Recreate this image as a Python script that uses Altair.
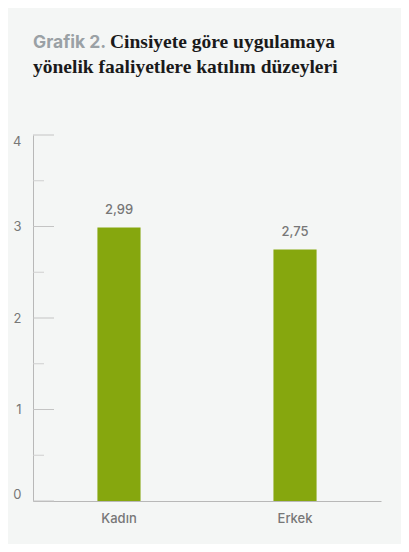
import altair as alt
import pandas as pd

categories = ["Kadın", "Erkek"]
values = [2.99, 2.75]
y_major = [0, 1, 2, 3, 4]
y_minor = [0.5, 1.5, 2.5, 3.5]
title_prefix = "Grafik 2."
title_line1 = "Cinsiyete göre uygulamaya"
title_line2 = "yönelik faaliyetlere katılım düzeyleri"

BG = "#f4f6f5"
GREEN = "#86a70e"
GRAY_TXT = "#777777"
AXIS = "#b8b8b8"
SANS = "Inter"
SERIF = "Liberation Serif"

df = pd.DataFrame({"cat": categories, "val": values})

yscale = alt.Scale(domain=[0, 4], nice=False)
xscale = alt.Scale(domain=categories, paddingInner=0.755, paddingOuter=0.366)

bars = alt.Chart(df).mark_bar(color=GREEN).encode(
    x=alt.X("cat:N", scale=xscale, sort=categories,
            axis=alt.Axis(title=None, labelAngle=0, ticks=False, labelPadding=11,
                          domainColor=AXIS, labelColor=GRAY_TXT, labelFont=SANS,
                          labelFontSize=13, labelFontWeight=500)),
    y=alt.Y("val:Q", scale=yscale,
            axis=alt.Axis(title=None, values=y_major, format="d", grid=False, ticks=False,
                          labelPadding=12, labelFlush=True, domainColor=AXIS,
                          labelColor=GRAY_TXT, labelFont=SANS, labelFontSize=13)),
)

labels = alt.Chart(df).transform_calculate(
    lab="replace(format(datum.val, '.2f'), '.', ',')"
).mark_text(baseline="bottom", dy=-10, font=SANS, fontSize=13, fontWeight=500,
            color=GRAY_TXT).encode(
    x=alt.X("cat:N", scale=xscale, sort=categories),
    y=alt.Y("val:Q", scale=yscale),
    text="lab:N",
)

major = alt.Chart(pd.DataFrame({"v": y_major})).mark_rule(color="#c4c4c4").encode(
    y=alt.Y("v:Q", scale=yscale), x=alt.value(0), x2=alt.value(21)
)
minor = alt.Chart(pd.DataFrame({"v": y_minor})).mark_rule(color="#cfcfcf").encode(
    y=alt.Y("v:Q", scale=yscale), x=alt.value(0), x2=alt.value(11)
)

t_prefix = alt.Chart(pd.DataFrame({"t": [title_prefix]})).mark_text(
    align="left", baseline="alphabetic", font=SANS, fontSize=17.5, fontWeight="bold",
    color="#9aa1a5").encode(text="t:N", x=alt.value(0), y=alt.value(-87))
t_l1 = alt.Chart(pd.DataFrame({"t": [title_line1]})).mark_text(
    align="left", baseline="alphabetic", font=SERIF, fontSize=19.5, fontWeight="bold",
    color="#1a1a1a").encode(text="t:N", x=alt.value(77), y=alt.value(-87))
t_l2 = alt.Chart(pd.DataFrame({"t": [title_line2]})).mark_text(
    align="left", baseline="alphabetic", font=SERIF, fontSize=19.5, fontWeight="bold",
    color="#1a1a1a").encode(text="t:N", x=alt.value(0), y=alt.value(-62))

chart = alt.layer(major, minor, bars, labels, t_prefix, t_l1, t_l2).properties(
    width=348, height=366, background=BG,
    autosize=alt.AutoSizeParams(type="none"),
    padding={"left": 25, "top": 127, "right": 20, "bottom": 43},
).configure_view(stroke=None)

chart.save("out.html", embed_options={"renderer": "svg", "actions": False})
